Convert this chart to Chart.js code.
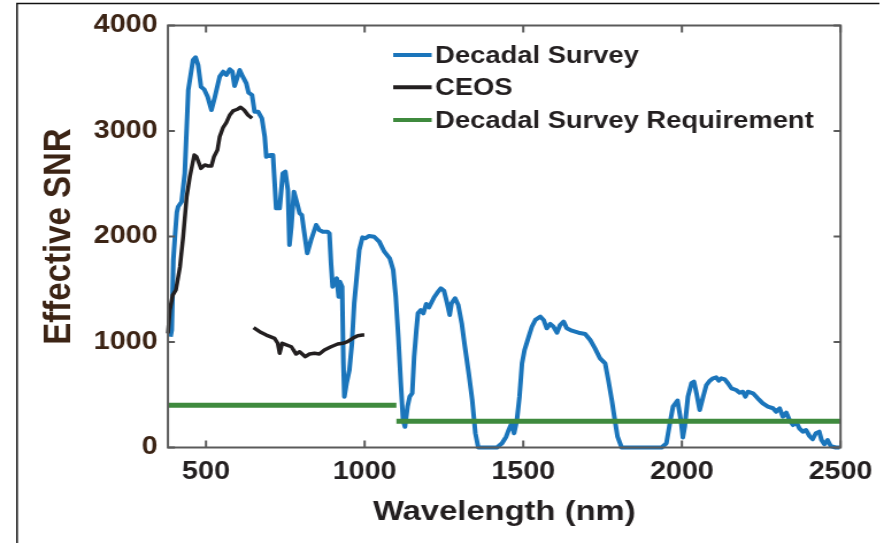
<!DOCTYPE html>
<html>
<head>
<meta charset="utf-8">
<script src="https://cdn.jsdelivr.net/npm/chart.js@4.4.0/dist/chart.umd.min.js"></script>
<style>
  html, body { margin: 0; padding: 0; background: #ffffff; overflow: hidden; }
</style>
</head>
<body>
<canvas id="c" width="769" height="543" style="display:block;width:884px;height:543px;"></canvas>
<script>
// ---------- data ----------
const xTickValues = [500, 1000, 1500, 2000, 2500];
const yTickValues = [0, 1000, 2000, 3000, 4000];

const seriesLabels = ["Decadal Survey", "CEOS", "Decadal Survey Requirement"];

const dsWavelength = [388, 392, 397, 402, 408, 412, 423, 433, 444, 459, 467, 475, 484, 494, 505, 517, 528, 543, 554, 564,
  575, 583, 590, 599, 606, 616, 627, 634, 645, 653, 664, 676, 685, 690, 703, 711, 721, 732, 742, 750,
  758, 763, 769, 777, 787, 795, 802, 810, 819, 831, 847, 857, 868, 883, 889, 894, 899, 912, 918, 922,
  929, 933, 936, 943, 952, 960, 967, 973, 983, 993, 1002, 1014, 1030, 1046, 1062, 1079, 1090, 1098, 1106, 1114,
  1121, 1127, 1135, 1142, 1150, 1156, 1163, 1168, 1177, 1185, 1194, 1203, 1219, 1229, 1240, 1250, 1260, 1268, 1274, 1285,
  1295, 1306, 1316, 1328, 1339, 1349, 1358, 1417, 1433, 1446, 1454, 1463, 1471, 1480, 1488, 1496, 1504, 1517, 1527, 1538,
  1554, 1564, 1574, 1585, 1595, 1606, 1616, 1627, 1637, 1653, 1674, 1695, 1711, 1726, 1742, 1758, 1768, 1779, 1787, 1797,
  1810, 1936, 1951, 1962, 1972, 1986, 1997, 2003, 2009, 2019, 2030, 2038, 2046, 2056, 2067, 2077, 2088, 2098, 2108, 2116,
  2124, 2135, 2145, 2156, 2171, 2182, 2192, 2200, 2208, 2224, 2239, 2255, 2271, 2287, 2297, 2308, 2318, 2329, 2339, 2350,
  2360, 2370, 2381, 2391, 2402, 2412, 2422, 2433, 2440, 2449, 2459, 2469, 2485, 2497];
const dsSNR = [1050, 1114, 1777, 2000, 2230, 2282, 2330, 2600, 3389, 3673, 3698, 3626, 3420, 3395, 3325, 3199, 3325, 3515, 3562, 3531,
  3585, 3562, 3427, 3509, 3578, 3515, 3452, 3363, 3341, 3183, 3183, 3120, 2946, 2756, 2773, 2773, 2267, 2267, 2599, 2614,
  2441, 1919, 2093, 2425, 2315, 2220, 2204, 2030, 1841, 1967, 2109, 2062, 2045, 2045, 2030, 1746, 1524, 1604, 1429, 1572,
  1524, 798, 482, 609, 735, 988, 1367, 1556, 1872, 1992, 1983, 2005, 1998, 1951, 1856, 1793, 1682, 1429, 1050, 609,
  261, 197, 387, 482, 514, 861, 1114, 1272, 1303, 1272, 1360, 1329, 1424, 1467, 1509, 1486, 1367, 1256, 1367, 1414,
  1351, 1177, 955, 703, 450, 135, 0, 0, 40, 102, 166, 229, 135, 261, 482, 798, 924, 1050, 1145, 1209,
  1240, 1209, 1130, 1171, 1145, 1088, 1161, 1193, 1130, 1107, 1088, 1076, 1019, 940, 845, 798, 640, 450, 292, 102,
  0, 0, 40, 229, 387, 445, 250, 95, 197, 482, 609, 624, 514, 355, 482, 592, 633, 656, 665, 633,
  656, 646, 609, 561, 545, 519, 529, 482, 529, 514, 466, 419, 387, 372, 340, 372, 292, 330, 261, 213,
  245, 182, 150, 166, 109, 78, 135, 150, 71, 30, 71, 14, 0, 0];

const ceosWavelength = [380, 386, 395, 405, 418, 428, 439, 449, 463, 470, 484, 496, 507, 517, 525, 536, 543, 554, 564, 575,
  585, 599, 609, 620, 632, 645, 647,
  650, 669, 690, 716, 726, 732, 740, 753, 769, 784, 795, 813, 826, 842, 857, 873, 894, 915, 931, 946,
  962, 978, 993, 999];
const ceosSNR = [1082, 1303, 1445, 1493, 1714, 2000, 2377, 2567, 2773, 2756, 2646, 2678, 2668, 2668, 2756, 2820, 2946, 3035, 3079, 3152,
  3190, 3206, 3225, 3199, 3152, 3120, null,
  1136, 1098, 1066, 1035, 988, 893, 988, 972, 955, 886, 908, 861, 886, 893, 886, 924, 955, 981, 988, 1003,
  1035, 1060, 1066, 1066];

const reqWavelength = [380, 1100, 1100, 1100, 2500];
const reqSNR = [400, 400, null, 250, 250];

// ---------- styling ----------
const BLUE = "#1B75BB";
const BLACK = "#231F20";
const GREEN = "#3F8A3E";
const AXIS = "#5A5A5A";
const BROWN = "#3C2415";
const FONT = "'Liberation Sans', Arial, sans-serif";

function pts(xs, ys) {
  return xs.map((x, i) => ({ x: x, y: ys[i] }));
}

const boxPlugin = {
  id: "boxPlugin",
  afterDraw(chart) {
    const ctx = chart.ctx;
    const { left, right, top, bottom } = chart.chartArea;
    const xs = chart.scales.x, ys = chart.scales.y;
    ctx.save();
    // axes box
    ctx.strokeStyle = AXIS;
    ctx.lineWidth = 2;
    ctx.beginPath();
    ctx.rect(left, top, right - left, bottom - top);
    ctx.stroke();
    // inward ticks
    ctx.beginPath();
    xTickValues.forEach(v => {
      const p = xs.getPixelForValue(v);
      ctx.moveTo(p, bottom); ctx.lineTo(p, bottom - 7);
      ctx.moveTo(p, top); ctx.lineTo(p, top + 7);
    });
    yTickValues.forEach(v => {
      const p = ys.getPixelForValue(v);
      ctx.moveTo(left, p); ctx.lineTo(left + 6, p);
      ctx.moveTo(right, p); ctx.lineTo(right - 6, p);
    });
    ctx.stroke();
    // outer frame
    ctx.strokeStyle = "#111111";
    ctx.lineWidth = 1.5;
    ctx.beginPath();
    ctx.moveTo(14.8, chart.height);
    ctx.lineTo(14.8, 3.5);
    ctx.lineTo(765, 3.5);
    ctx.stroke();
    // legend
    const rows = [55, 87.3, 120];
    ctx.font = "bold 23.8px " + FONT;
    ctx.textBaseline = "middle";
    ctx.textAlign = "left";
    chart.data.datasets.forEach((ds, i) => {
      ctx.strokeStyle = ds.borderColor;
      ctx.lineWidth = 4;
      ctx.beginPath();
      ctx.moveTo(342, rows[i]);
      ctx.lineTo(375.5, rows[i]);
      ctx.stroke();
      ctx.fillStyle = BLACK;
      ctx.fillText(ds.label, 378.5, rows[i] + 1);
    });
    ctx.restore();
  }
};

new Chart(document.getElementById("c"), {
  type: "line",
  data: {
    datasets: [
      { label: seriesLabels[0], data: pts(dsWavelength, dsSNR), borderColor: BLUE, borderWidth: 4, order: 2 },
      { label: seriesLabels[1], data: pts(ceosWavelength, ceosSNR), borderColor: BLACK, borderWidth: 3.5, order: 1 },
      { label: seriesLabels[2], data: pts(reqWavelength, reqSNR), borderColor: GREEN, borderWidth: 5, order: 0, borderCapStyle: "butt" }
    ]
  },
  options: {
    responsive: false,
    animation: false,
    events: [],
    parsing: false,
    spanGaps: false,
    elements: { point: { radius: 0 }, line: { tension: 0, fill: false, borderJoinStyle: "round" } },
    datasets: { line: { clip: 6 } },
    layout: { padding: { left: 0, right: 36, top: 25.5, bottom: 0 } },
    plugins: { legend: { display: false }, tooltip: { enabled: false } },
    scales: {
      x: {
        type: "linear",
        min: 380, max: 2500,
        afterBuildTicks: s => { s.ticks = xTickValues.map(v => ({ value: v })); },
        afterFit: s => { s.height = 95.5; },
        grid: { display: false, drawTicks: false },
        border: { display: false },
        ticks: { color: BLACK, font: { family: FONT, size: 25, weight: "bold" }, padding: 10, maxRotation: 0, autoSkip: false,
                 callback: v => String(v) },
        title: { display: true, text: "Wavelength (nm)", color: BLACK, font: { family: FONT, size: 28.5, weight: "bold" },
                 padding: { top: 0, bottom: 14 } }
      },
      y: {
        min: 0, max: 4000,
        afterBuildTicks: s => { s.ticks = yTickValues.map(v => ({ value: v })); },
        afterFit: s => { s.width = 146.1; },
        grid: { display: false, drawTicks: false },
        border: { display: false },
        ticks: { color: BROWN, font: { family: FONT, size: 25, weight: "bold" }, padding: 9, autoSkip: false,
                 callback: v => String(v) },
        title: { display: true, text: "Effective SNR", color: BROWN, font: { family: FONT, size: 33, weight: "bold" },
                 padding: { top: 32, bottom: 0 } }
      }
    }
  },
  plugins: [boxPlugin]
});
</script>
</body>
</html>
